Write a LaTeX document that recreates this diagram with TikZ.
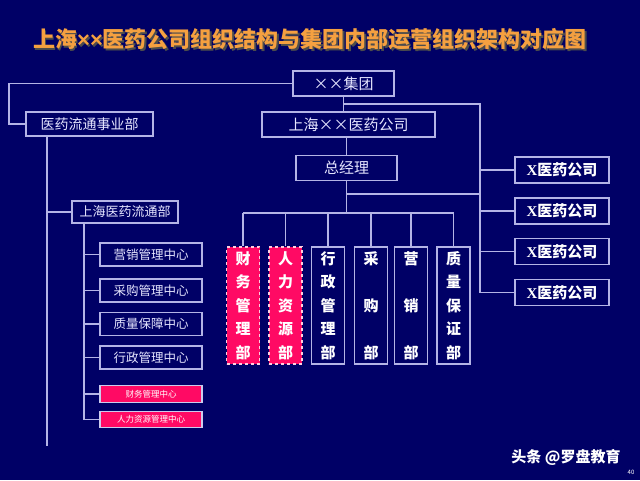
\documentclass[tikz,border=0pt]{standalone}
\usepackage{fontspec}
\setmainfont{Noto Sans CJK SC}
\newfontfamily\tms{Liberation Serif}
\newfontfamily\lsans{Liberation Sans}
\definecolor{navy}{HTML}{000066}
\definecolor{linec}{HTML}{B4B4E6}
\definecolor{txtc}{HTML}{E6E6FF}
\definecolor{pinkc}{HTML}{FF0A64}
\definecolor{titlec}{HTML}{F5A040}
\begin{document}
\begin{tikzpicture}[x=1pt,y=-1pt,
  line/.style={draw=linec,line width=1.1pt},
  box/.style={draw=linec,line width=1.1pt,inner sep=0pt,text=txtc,font=\fontsize{13}{15}\selectfont},
  bigbox/.style={box,font=\fontsize{15}{17}\selectfont},
  xbox/.style={box,minimum width=94pt,minimum height=26pt,text=white,font=\fontsize{15}{17}\selectfont\bfseries},
  cbox/.style={box,minimum width=102pt,minimum height=23pt,font=\fontsize{12.5}{14}\selectfont},
  pbox/.style={cbox,fill=pinkc,draw=linec!70,minimum height=16.5pt,text=white,font=\fontsize{8.5}{10}\selectfont},
  dept/.style={box,minimum width=33pt,minimum height=117pt,align=center,text=white,font=\fontsize{15}{23.5}\selectfont\bfseries},
  pdept/.style={dept,fill=pinkc,draw=white!80!pinkc,dashed}]
\useasboundingbox (0,0) rectangle (640,480);
\fill[navy] (0,0) rectangle (640,480);
\node[text=black!70,font=\fontsize{22}{25}\selectfont\bfseries] (titleshadow) at (311.5,41) {上海{\lsans ××}医药公司组织结构与集团内部运营组织架构对应图};
\node[text=titlec,font=\fontsize{22}{25}\selectfont\bfseries] (title) at (310,39.5) {上海{\lsans ××}医药公司组织结构与集团内部运营组织架构对应图};
\node[bigbox,minimum width=101pt,minimum height=25pt] (grp) at (343.5,83.5) {××集团};
\node[box,minimum width=127pt,minimum height=24pt,font=\fontsize{14}{16}\selectfont] (biz) at (89.5,124) {医药流通事业部};
\node[bigbox,minimum width=173pt,minimum height=25pt] (sh) at (348.5,124.5) {上海××医药公司};
\node[bigbox,minimum width=101pt,minimum height=25pt] (gm) at (346.5,168) {总经理};
\node[xbox] (xs1) at (562,170) {{\tms X}医药公司};
\node[xbox] (xs2) at (562,211) {{\tms X}医药公司};
\node[xbox] (xs3) at (562,251.5) {{\tms X}医药公司};
\node[xbox] (xs4) at (562,292.5) {{\tms X}医药公司};
\node[box,minimum width=106pt,minimum height=22pt] (shlt) at (125,212) {上海医药流通部};
\node[cbox] (c1) at (151,254.5) {营销管理中心};
\node[cbox] (c2) at (151,290.5) {采购管理中心};
\node[cbox] (c3) at (151,324) {质量保障中心};
\node[cbox] (c4) at (151,357.5) {行政管理中心};
\node[pbox] (c5) at (151,394) {财务管理中心};
\node[pbox] (c6) at (151,419.5) {人力资源管理中心};
\node[pdept] (d1) at (243,305.5) {财\\务\\管\\理\\部};
\node[pdept] (d2) at (285.5,305.5) {人\\力\\资\\源\\部};
\node[dept] (d3) at (328,305.5) {行\\政\\管\\理\\部};
\node[dept] (d4) at (371,305.5) {采\\[23.5pt]购\\[23.5pt]部};
\node[dept] (d5) at (411,305.5) {营\\[23.5pt]销\\[23.5pt]部};
\node[dept] (d6) at (453.5,305.5) {质\\量\\保\\证\\部};
\coordinate (xbus) at (480,104);
\coordinate (dbus) at (0,213);
\coordinate (bizl) at (47,446);
\coordinate (shl) at (84,0);
\draw[line] (grp.west) -| (9,124) -- (biz.west);
\draw[line] (grp.south) -- (grp.south |- sh.north);
\draw[line] (grp.south |- xbus) -- (xbus) -- (xbus |- xs4.west);
\foreach \i in {1,...,4} \draw[line] (xbus |- xs\i.west) -- (xs\i.west);
\draw[line] (gm.north) -- (gm.north |- sh.south);
\draw[line] (gm.south) -- (gm.south |- dbus);
\draw[line] (gm.south |- 0,194) -- (xbus |- 0,194);
\draw[line] (d1.north |- dbus) -- (d6.north |- dbus);
\foreach \i in {1,...,6} \draw[line] (d\i.north) -- (d\i.north |- dbus);
\draw[line] (bizl |- biz.south) -- (bizl);
\draw[line] (bizl |- shlt.west) -- (shlt.west);
\draw[line] (shl |- shlt.south) -- (shl |- c6.west);
\foreach \i in {1,...,6} \draw[line] (shl |- c\i.west) -- (c\i.west);
\node[text=white,font=\fontsize{15}{17}\selectfont\bfseries] (mark) at (566,457) {头条 @罗盘教育};
\node[text=white,font=\fontsize{6}{7}\selectfont] (pg) at (631,472) {40};
\end{tikzpicture}
\end{document}
